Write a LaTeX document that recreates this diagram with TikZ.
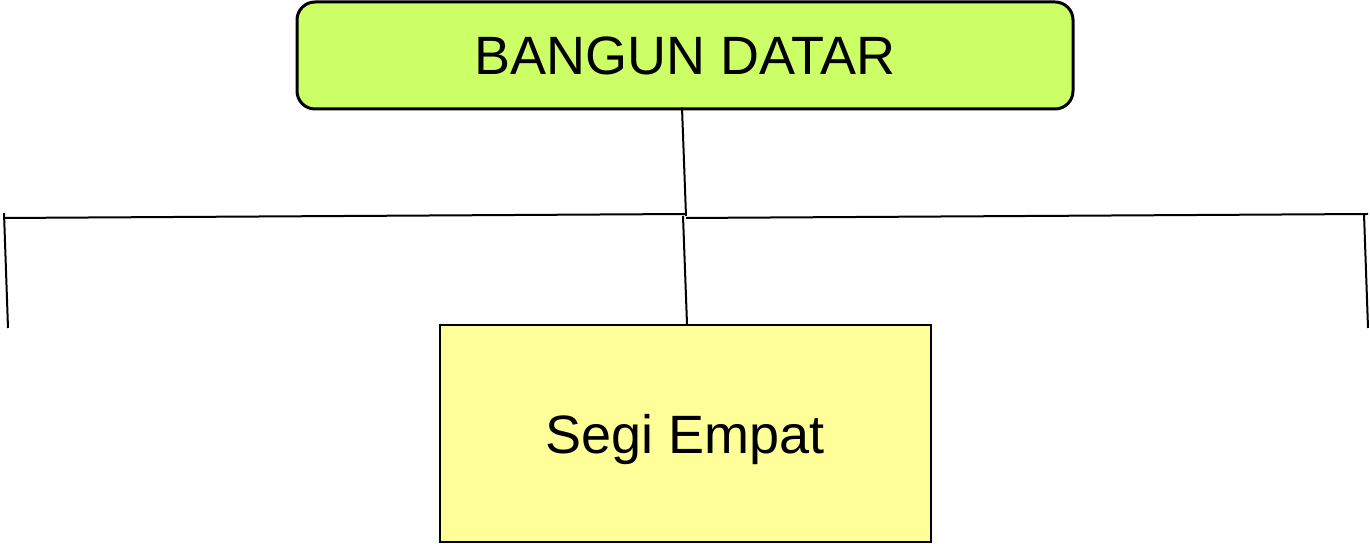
\documentclass[tikz,border=0pt]{standalone}
\usepackage{fontspec}
\setmainfont{Liberation Sans}
\definecolor{limegreen}{RGB}{204,255,102}
\definecolor{paleyellow}{RGB}{255,255,153}

\begin{document}
\begin{tikzpicture}[x=0.5pt,y=-0.5pt,line width=1pt,
        top node/.style={rectangle,rounded corners=9pt,draw,line width=1.5pt,fill=limegreen,
          minimum width=388pt,minimum height=53.5pt,font=\fontsize{27}{32}\selectfont},
        sub node/.style={rectangle,draw,line width=1pt,fill=paleyellow,
          minimum width=245.5pt,minimum height=108.5pt,text depth=0pt,font=\fontsize{27}{32}\selectfont}]
        \useasboundingbox (0,0) rectangle (1370,544);
        \node[top node] (bangun) at (685,55.5) {BANGUN DATAR};
        \node[sub node] (segi) at (685.5,433.5) {Segi Empat};
        % branch line
        \coordinate (j) at (686,216);
        \coordinate (left top) at (4,218);
        \coordinate (mid left) at (686,214);
        \coordinate (mid right) at (686,218);
        \coordinate (right top) at (1368,214);
        \coordinate (left a) at (4,213);
        \coordinate (left b) at (8,328);
        \coordinate (right a) at (1364,214);
        \coordinate (right b) at (1368,328);
        \coordinate (j2) at (683,216);
        \draw ([xshift=-1.5pt,yshift=1.5pt]bangun.south) -- (j);
        \draw (left top) -- (mid left);
        \draw (mid right) -- (right top);
        \draw (left a) -- (left b);
        \draw (right a) -- (right b);
        \draw (j2) -- ([xshift=0.75pt]segi.north);
\end{tikzpicture}
\end{document}
